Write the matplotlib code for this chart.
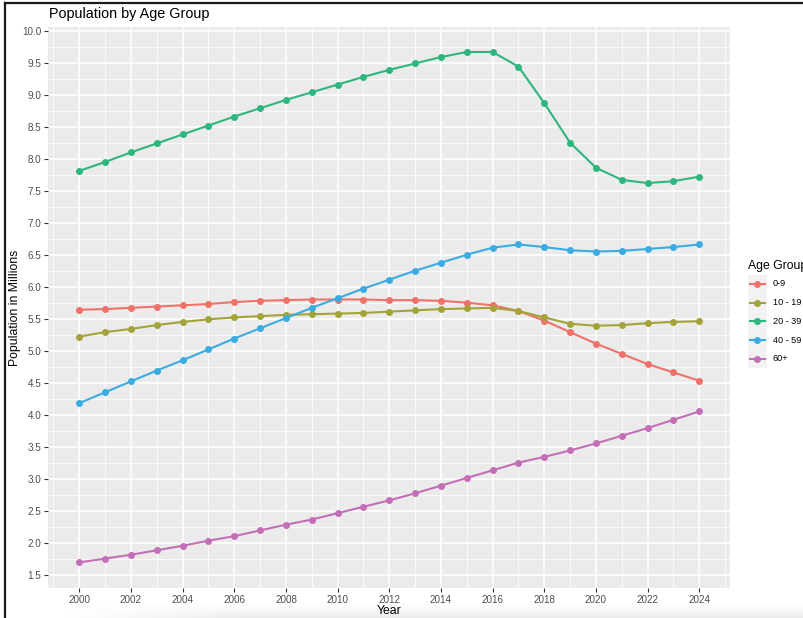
import matplotlib
matplotlib.use("Agg")
import numpy as np
import matplotlib.pyplot as plt
from matplotlib.lines import Line2D
from matplotlib.patches import Rectangle
from matplotlib.ticker import MultipleLocator

plt.rcParams['font.family'] = ['Liberation Sans', 'DejaVu Sans']

# data
years = list(range(2000, 2025))
groups = ['0-9', '10 - 19', '20 - 39', '40 - 59', '60+']
colors = ['#EF716A', '#A2A43A', '#2DB67E', '#3AACE2', '#C46EB7']

pop_0_9 = [5.64, 5.65, 5.67, 5.69, 5.71, 5.73, 5.76, 5.78, 5.79, 5.80,
           5.80, 5.80, 5.79, 5.79, 5.78, 5.75, 5.71, 5.62, 5.47, 5.29,
           5.11, 4.95, 4.79, 4.66, 4.53]
pop_10_19 = [5.22, 5.29, 5.34, 5.40, 5.45, 5.49, 5.52, 5.54, 5.56, 5.57,
             5.58, 5.59, 5.61, 5.63, 5.65, 5.66, 5.67, 5.62, 5.52, 5.42,
             5.39, 5.40, 5.43, 5.45, 5.46]
pop_20_39 = [7.81, 7.95, 8.10, 8.24, 8.38, 8.52, 8.66, 8.79, 8.92, 9.04,
             9.16, 9.28, 9.39, 9.49, 9.59, 9.67, 9.67, 9.44, 8.87, 8.25,
             7.86, 7.67, 7.62, 7.65, 7.72]
pop_40_59 = [4.18, 4.35, 4.52, 4.69, 4.85, 5.02, 5.19, 5.35, 5.51, 5.67,
             5.82, 5.97, 6.11, 6.25, 6.375, 6.50, 6.61, 6.66, 6.62, 6.57,
             6.55, 6.56, 6.59, 6.62, 6.66]
pop_60 = [1.69, 1.75, 1.81, 1.88, 1.95, 2.03, 2.10, 2.19, 2.28, 2.36,
          2.46, 2.56, 2.66, 2.77, 2.89, 3.01, 3.13, 3.25, 3.34, 3.44,
          3.55, 3.67, 3.79, 3.92, 4.05]
series = [pop_0_9, pop_10_19, pop_20_39, pop_40_59, pop_60]

W, H = 804, 618
fig = plt.figure(figsize=(W / 100, H / 100), dpi=100)

# faint shadow along the bottom of the screenshot
sh = fig.add_axes([60 / W, 0, 1 - 60 / W, 18 / H], zorder=-2)
ny, nx = 18, 200
vert = np.linspace(0, 1, ny)[:, None] ** 1.5
horiz = np.clip(np.linspace(0, 4, nx), 0, 1)[None, :]
img = np.zeros((ny, nx, 4))
img[..., :3] = 0.82
img[..., 3] = 0.4 * vert * horiz
sh.imshow(img, aspect='auto', origin='upper', extent=[0, 1, 0, 1])
sh.axis('off')

ax = fig.add_axes([48.3 / W, 1 - 588 / H, (730.3 - 48.3) / W, (588 - 27) / H])
ax.set_facecolor('#EBEBEB')

for vals, c in zip(series, colors):
    ax.plot(years, vals, color=c, lw=1.5, marker='o', markersize=4.0, zorder=3)

ax.set_xlim(1998.8, 2025.2)
ax.set_ylim(1.29, 10.06)
ax.xaxis.set_major_locator(MultipleLocator(2))
ax.xaxis.set_minor_locator(MultipleLocator(1))
ax.yaxis.set_major_locator(MultipleLocator(0.5))
ax.yaxis.set_minor_locator(MultipleLocator(0.25))
ax.yaxis.set_major_formatter(plt.FuncFormatter(lambda v, p: f'{v:.1f}'))
ax.grid(which='major', color='white', lw=1.1)
ax.grid(which='minor', color='white', lw=0.55)
ax.set_axisbelow(True)
for s in ax.spines.values():
    s.set_visible(False)
ax.tick_params(which='major', length=3.2, width=0.8, color='#333333',
               labelcolor='#4D4D4D', labelsize=7.1, pad=2)
ax.tick_params(which='minor', length=0)

ax.set_xlabel('Year', fontsize=8.8)
ax.set_ylabel('Population in Millions', fontsize=8.8)
ax.xaxis.set_label_coords(0.5, -0.0295)
ax.yaxis.set_label_coords(-0.040, 0.5)
fig.text(49 / W, 1 - 18 / H, 'Population by Age Group', fontsize=10.4,
         ha='left', va='baseline')

# legend drawn in figure space
fig.text(748 / W, 1 - 266 / H, 'Age Group', fontsize=8.8, ha='left', va='center')
for i, (g, c) in enumerate(zip(groups, colors)):
    yc = 284 + i * 18.7
    fig.add_artist(Rectangle((748 / W, 1 - (yc + 9.3) / H), 19 / W, 18.7 / H,
                             transform=fig.transFigure, color='#F2F2F2', lw=0))
    fig.add_artist(Line2D([750 / W, 765 / W], [1 - yc / H, 1 - yc / H],
                          transform=fig.transFigure, color=c, lw=1.5))
    fig.add_artist(Line2D([757.5 / W], [1 - yc / H], transform=fig.transFigure,
                          color=c, marker='o', markersize=4.0))
    fig.text(773 / W, 1 - yc / H, g, fontsize=6.6, ha='left', va='center')

# screenshot frame
fig.add_artist(Line2D([5 / W, 5 / W], [0, 1 - 3 / H], transform=fig.transFigure,
                      color='#1a1a1a', lw=1.6))
fig.add_artist(Line2D([5 / W, 1], [1 - 3 / H, 1 - 3 / H], transform=fig.transFigure,
                      color='#1a1a1a', lw=1.6))

fig.savefig('out.png', dpi=100)
